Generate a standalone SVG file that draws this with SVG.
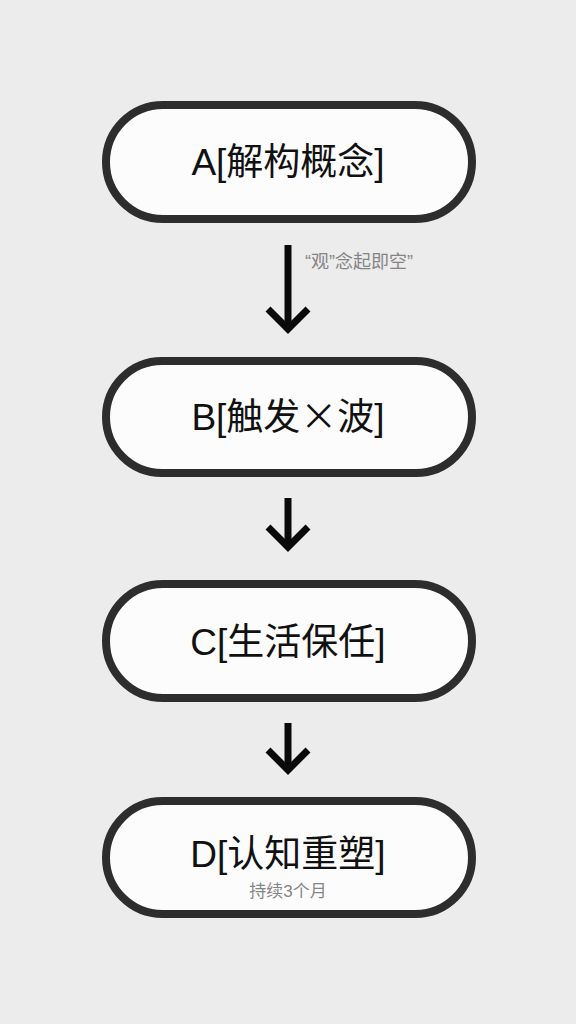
<svg xmlns="http://www.w3.org/2000/svg" width="576" height="1024" viewBox="0 0 576 1024">
  <style>
    .node rect { fill: #fcfcfc; stroke: #2d2d2d; stroke-width: 8; }
    .title { font-family: "Liberation Sans", "Noto Sans CJK SC", sans-serif; font-size: 37px; fill: #111; text-anchor: middle; }
    .cjk { font-family: "Noto Sans CJK SC", sans-serif; }
    .sub { font-family: "Liberation Sans", "Noto Sans CJK SC", sans-serif; font-size: 17px; fill: #858585; text-anchor: middle; }
    .lbl { font-family: "Liberation Sans", "Noto Sans CJK SC", sans-serif; font-size: 18px; fill: #858585; }
    .conn path { fill: none; stroke: #0a0a0a; stroke-width: 7; }
  </style>
  <rect width="576" height="1024" fill="#ececec"/>
  <g id="A" class="node">
    <rect x="106" y="105" width="366" height="114" rx="57"/>
    <text class="title" x="288" y="175">A[解构概念]</text>
  </g>
  <g id="B" class="node">
    <rect x="106" y="361" width="366" height="112" rx="56"/>
    <text class="title" x="288" y="430">B[触发<tspan class="cjk">×</tspan>波]</text>
  </g>
  <g id="C" class="node">
    <rect x="106" y="584" width="366" height="114" rx="57"/>
    <text class="title" x="288" y="655">C[生活保任]</text>
  </g>
  <g id="D" class="node">
    <rect x="106" y="801" width="366" height="113" rx="56.5"/>
    <text class="title" x="288" y="867">D[认知重塑]</text>
    <text class="sub" x="288" y="897">持续3个月</text>
  </g>
  <g id="connectors" class="conn">
    <path d="M288 245 V328"/>
    <path d="M268 309 L288 329 L308 309"/>
    <path d="M288 498 V547"/>
    <path d="M268 527 L288 547 L308 527"/>
    <path d="M288 723 V770"/>
    <path d="M268 750 L288 770 L308 750"/>
    <text class="lbl" x="305" y="268" stroke="none">“观”念起即空”</text>
  </g>
</svg>
